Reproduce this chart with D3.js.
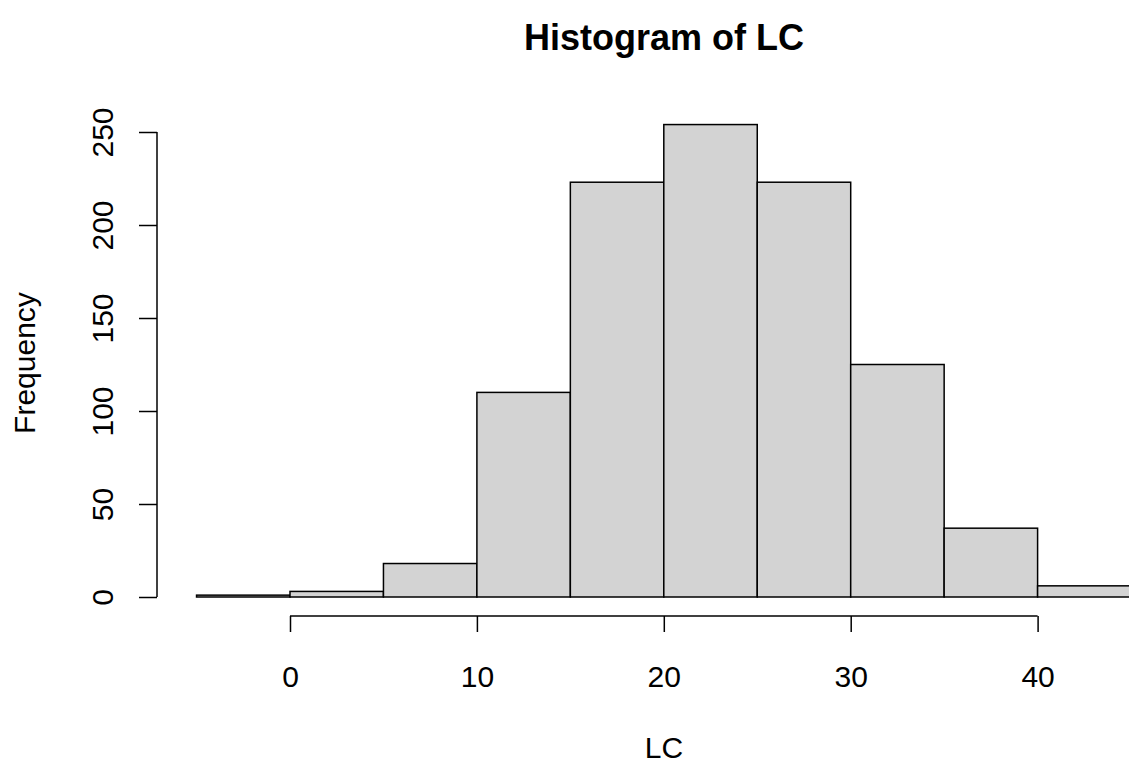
<!DOCTYPE html>
<html>
<head>
<meta charset="utf-8">
<script src="https://cdn.jsdelivr.net/npm/d3@7"></script>
<style>
  body { margin: 0; background: #fff; }
  svg { font-family: "Liberation Sans", Arial, sans-serif; }
</style>
</head>
<body>
<svg id="chart" width="1129" height="768"></svg>
<script>
// histogram bins (break edges) and counts
const breaks = [-5, 0, 5, 10, 15, 20, 25, 30, 35, 40, 45];
const counts = [1, 3, 18, 110, 223, 254, 223, 125, 37, 6];
const xTicks = [0, 10, 20, 30, 40];
const yTicks = [0, 50, 100, 150, 200, 250];

const svg = d3.select("#chart");
const fontSize = 30;

// scales, fitted to the R plot region
const x = d3.scaleLinear().domain([0, 40]).range([290, 1037.6]);
const y = d3.scaleLinear().domain([0, 250]).range([597, 132]);

const bins = counts.map((c, i) => ({ x0: breaks[i], x1: breaks[i + 1], n: c }));

svg.append("g")
  .selectAll("rect")
  .data(bins)
  .join("rect")
  .attr("x", d => x(d.x0))
  .attr("y", d => y(d.n))
  .attr("width", d => x(d.x1) - x(d.x0))
  .attr("height", d => y(0) - y(d.n))
  .attr("fill", "#d3d3d3")
  .attr("stroke", "black")
  .attr("stroke-width", 1.5);

// x axis (below plot, R style)
const xAxis = svg.append("g")
  .attr("transform", "translate(0,616)")
  .call(d3.axisBottom(x).tickValues(xTicks).tickSize(16).tickSizeOuter(0));
xAxis.select(".domain").attr("d", `M${x(0)},0H${x(40)}`);
xAxis.selectAll("text").attr("y", 71).attr("dy", null);

// y axis with rotated labels
const yAxis = svg.append("g")
  .attr("transform", "translate(157,0)")
  .call(d3.axisLeft(y).tickValues(yTicks).tickSize(18).tickSizeOuter(0));
yAxis.select(".domain").attr("d", `M0,${y(0)}V${y(250)}`);
yAxis.selectAll("text")
  .attr("x", null).attr("dy", null)
  .attr("text-anchor", "middle")
  .attr("transform", "translate(-44,0) rotate(-90)");

svg.selectAll(".tick line, .domain").attr("stroke", "black").attr("stroke-width", 1.5);
svg.selectAll(".tick text").attr("font-size", fontSize).attr("fill", "black")
  .attr("font-family", "Liberation Sans, Arial, sans-serif");

// titles
svg.append("text")
  .attr("x", 664).attr("y", 50)
  .attr("text-anchor", "middle")
  .attr("font-size", fontSize * 1.2).attr("font-weight", "bold")
  .text("Histogram of LC");

svg.append("text")
  .attr("x", 664).attr("y", 758)
  .attr("text-anchor", "middle")
  .attr("font-size", fontSize)
  .text("LC");

svg.append("text")
  .attr("transform", "translate(35,363) rotate(-90)")
  .attr("text-anchor", "middle")
  .attr("font-size", fontSize)
  .text("Frequency");
</script>
</body>
</html>
